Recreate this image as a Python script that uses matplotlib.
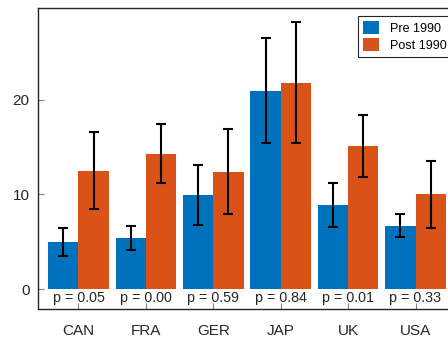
import numpy as np
import matplotlib
matplotlib.use("Agg")
import matplotlib.pyplot as plt

countries = ['CAN', 'FRA', 'GER', 'JAP', 'UK', 'USA']
pre = [5.0, 5.4, 9.95, 20.95, 8.9, 6.7]
post = [12.5, 14.3, 12.4, 21.8, 15.1, 10.0]
pre_err = [1.45, 1.25, 3.15, 5.55, 2.3, 1.2]
post_err = [4.05, 3.1, 4.5, 6.4, 3.25, 3.5]
pvals = ['0.05', '0.00', '0.59', '0.84', '0.01', '0.33']

plt.rcParams['font.family'] = ['Liberation Sans', 'DejaVu Sans']

fig = plt.figure(figsize=(4.48, 3.38), dpi=100)
ax = fig.add_axes([38 / 448, 29 / 338, 418 / 448, 301 / 338])

x = np.arange(1, len(countries) + 1)
w = 0.45
blue = '#0072BD'
orange = '#D95319'

ax.bar(x - w / 2, pre, w, color=blue, label='Pre 1990')
ax.bar(x + w / 2, post, w, color=orange, label='Post 1990')
ax.errorbar(x - w / 2, pre, yerr=pre_err, fmt='none', ecolor='black',
            elinewidth=1.5, capsize=3.6, capthick=1.5)
ax.errorbar(x + w / 2, post, yerr=post_err, fmt='none', ecolor='black',
            elinewidth=1.5, capsize=3.6, capthick=1.5)

for xi, p in zip(x, pvals):
    ax.text(xi, -0.95, 'p = ' + p, ha='center', va='center', fontsize=10.3,
            color='#262626')

ax.set_xlim(0.4, 6.6)
ax.set_ylim(-2.1, 29.7)
ax.set_xticks(x)
ax.set_xticklabels(countries)
ax.set_yticks([0, 10, 20])

for s in ax.spines.values():
    s.set_color('#262626')
    s.set_linewidth(1.0)

ax.tick_params(axis='both', direction='in', colors='#808080', labelcolor='#262626',
               labelsize=11, length=4)
ax.tick_params(axis='x', pad=11)
ax.tick_params(axis='y', pad=6)

leg = ax.legend(loc='upper right', bbox_to_anchor=(0.99, 0.974),
                fontsize=9, fancybox=False, edgecolor='#262626',
                framealpha=1, borderpad=0.4, handlelength=1.28, handleheight=1.28,
                handletextpad=0.88, labelspacing=0.24, borderaxespad=0)
leg.get_frame().set_linewidth(0.8)

fig.savefig('out.png', dpi=100)
